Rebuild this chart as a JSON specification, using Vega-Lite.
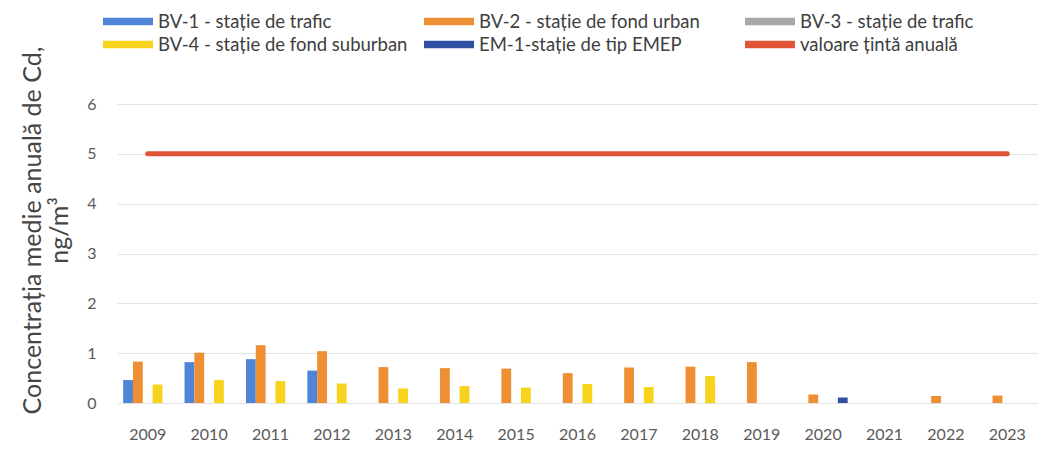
{
  "$schema": "https://vega.github.io/schema/vega-lite/v6.json",
  "autosize": "none",
  "width": 921,
  "height": 299,
  "padding": {"left": 117, "top": 104, "right": 0, "bottom": 49},
  "background": "white",
  "config": {
    "view": {"stroke": null},
    "font": "Lato",
    "axis": {"labelFont": "Lato", "titleFont": "Lato", "labelColor": "#5a5a5a", "titleColor": "#454545"},
    "legend": {"labelFont": "Lato"}
  },
  "datasets": {
    "bars": [
      {"year": "2009", "station": "BV-1 - stație de trafic", "value": 0.46},
      {"year": "2009", "station": "BV-2 - stație de fond urban", "value": 0.83},
      {"year": "2009", "station": "BV-4 - stație de fond suburban", "value": 0.37},
      {"year": "2010", "station": "BV-1 - stație de trafic", "value": 0.82},
      {"year": "2010", "station": "BV-2 - stație de fond urban", "value": 1.01},
      {"year": "2010", "station": "BV-4 - stație de fond suburban", "value": 0.46},
      {"year": "2011", "station": "BV-1 - stație de trafic", "value": 0.88},
      {"year": "2011", "station": "BV-2 - stație de fond urban", "value": 1.16},
      {"year": "2011", "station": "BV-4 - stație de fond suburban", "value": 0.44},
      {"year": "2012", "station": "BV-1 - stație de trafic", "value": 0.65},
      {"year": "2012", "station": "BV-2 - stație de fond urban", "value": 1.04},
      {"year": "2012", "station": "BV-4 - stație de fond suburban", "value": 0.39},
      {"year": "2013", "station": "BV-2 - stație de fond urban", "value": 0.72},
      {"year": "2013", "station": "BV-4 - stație de fond suburban", "value": 0.29},
      {"year": "2014", "station": "BV-2 - stație de fond urban", "value": 0.7},
      {"year": "2014", "station": "BV-4 - stație de fond suburban", "value": 0.34},
      {"year": "2015", "station": "BV-2 - stație de fond urban", "value": 0.69},
      {"year": "2015", "station": "BV-4 - stație de fond suburban", "value": 0.31},
      {"year": "2016", "station": "BV-2 - stație de fond urban", "value": 0.6},
      {"year": "2016", "station": "BV-4 - stație de fond suburban", "value": 0.38},
      {"year": "2017", "station": "BV-2 - stație de fond urban", "value": 0.71},
      {"year": "2017", "station": "BV-4 - stație de fond suburban", "value": 0.32},
      {"year": "2018", "station": "BV-2 - stație de fond urban", "value": 0.73},
      {"year": "2018", "station": "BV-4 - stație de fond suburban", "value": 0.54},
      {"year": "2019", "station": "BV-2 - stație de fond urban", "value": 0.82},
      {"year": "2020", "station": "BV-2 - stație de fond urban", "value": 0.17},
      {"year": "2020", "station": "EM-1-stație de tip EMEP", "value": 0.11},
      {"year": "2022", "station": "BV-2 - stație de fond urban", "value": 0.14},
      {"year": "2023", "station": "BV-2 - stație de fond urban", "value": 0.15}
    ],
    "target": [
      {"year": "2009", "value": 5}, {"year": "2010", "value": 5}, {"year": "2011", "value": 5},
      {"year": "2012", "value": 5}, {"year": "2013", "value": 5}, {"year": "2014", "value": 5},
      {"year": "2015", "value": 5}, {"year": "2016", "value": 5}, {"year": "2017", "value": 5},
      {"year": "2018", "value": 5}, {"year": "2019", "value": 5}, {"year": "2020", "value": 5},
      {"year": "2021", "value": 5}, {"year": "2022", "value": 5}, {"year": "2023", "value": 5}
    ]
  },
  "encoding": {
    "x": {
      "field": "year", "type": "nominal",
      "scale": {"domain": ["2009","2010","2011","2012","2013","2014","2015","2016","2017","2018","2019","2020","2021","2022","2023"], "paddingInner": 0.2, "paddingOuter": 0.1},
      "axis": {"title": null, "labelAngle": 0, "labelFontSize": 16, "labelPadding": 23, "ticks": false, "domain": false, "grid": false}
    },
    "y": {
      "field": "value", "type": "quantitative",
      "scale": {"domain": [0, 6]},
      "axis": {
        "title": ["Concentrația medie anuală de Cd,", "ng/m³"],
        "titleFontSize": 25, "titleFontWeight": "normal", "titleLineHeight": 27,
        "titleX": -72, "titleY": 126, "titleBaseline": "bottom", "titleAlign": "center",
        "labelFontSize": 16, "labelPadding": 21, "ticks": false, "domain": false,
        "values": [0, 1, 2, 3, 4, 5, 6], "labelOverlap": false,
        "grid": true, "gridColor": "#e3e3e3", "gridWidth": 1
      }
    },
    "color": {
      "scale": {
        "domain": ["BV-1 - stație de trafic", "BV-2 - stație de fond urban", "BV-3 - stație de trafic", "BV-4 - stație de fond suburban", "EM-1-stație de tip EMEP", "valoare țintă anuală"],
        "range": ["#4f84d6", "#ee8f33", "#a8a8a8", "#f7d31c", "#2f4fa0", "#e05438"]
      },
      "legend": {
        "title": null, "orient": "none", "legendX": -1.5, "legendY": -95,
        "direction": "horizontal", "columns": 3, "columnPadding": 16, "rowPadding": 1,
        "gridAlign": "all",
        "symbolType": "M-2,-0.3H2V0.3H-2Z", "symbolSize": 625, "symbolStrokeWidth": 0,
        "labelFontSize": 18.5, "labelColor": "#404040", "labelOffset": 17.5, "labelLimit": 400
      }
    }
  },
  "layer": [
    {
      "data": {"name": "bars"},
      "mark": {"type": "bar"},
      "encoding": {
        "color": {"field": "station", "type": "nominal"},
        "xOffset": {"field": "station", "type": "nominal", "scale": {"domain": ["BV-1 - stație de trafic", "BV-2 - stație de fond urban", "BV-3 - stație de trafic", "BV-4 - stație de fond suburban", "EM-1-stație de tip EMEP"], "paddingInner": 0, "paddingOuter": 0}}
      }
    },
    {
      "data": {"name": "target"},
      "mark": {"type": "line", "strokeWidth": 5, "strokeCap": "round"},
      "encoding": {
        "color": {"datum": "valoare țintă anuală"}
      }
    }
  ]
}
